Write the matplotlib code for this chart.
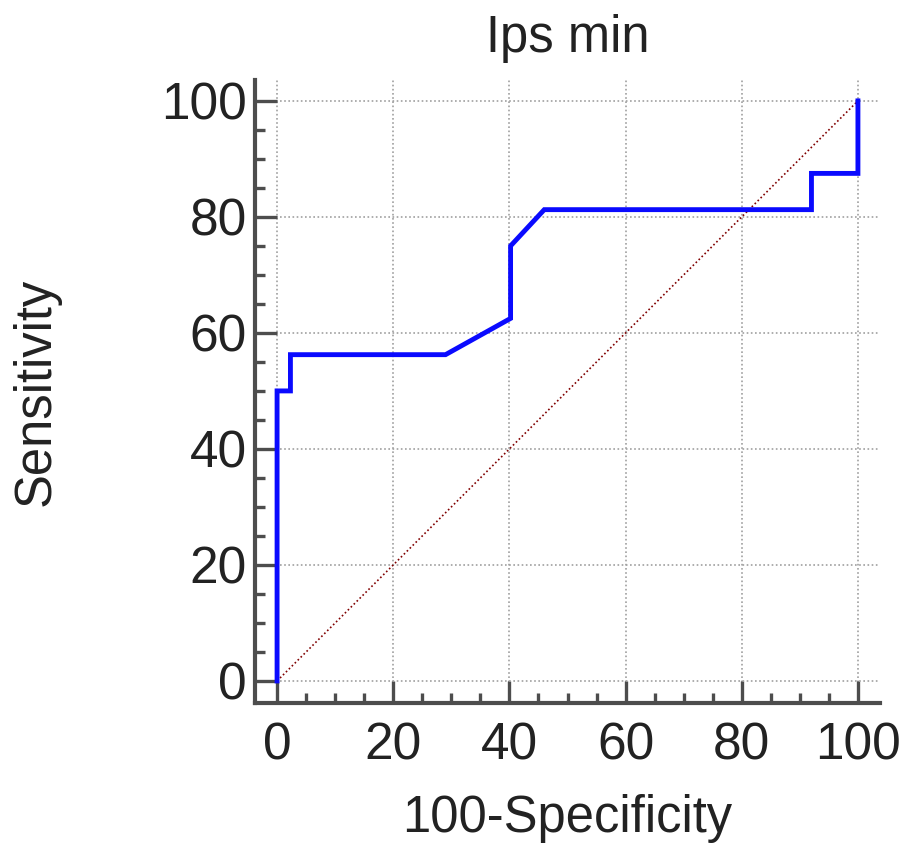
import matplotlib
matplotlib.use("Agg")
import matplotlib.pyplot as plt
from matplotlib.ticker import MultipleLocator

plt.rcParams['font.family'] = ['Liberation Sans', 'DejaVu Sans']

fpr = [0, 0, 2.3, 2.3, 29, 40.2, 40.2, 46, 92, 92, 100, 100]
tpr = [0, 50, 50, 56.25, 56.25, 62.5, 75, 81.25, 81.25, 87.5, 87.5, 100]
diag = [0, 100]
title = "Ips min"
xlabel = "100-Specificity"
ylabel = "Sensitivity"

fig = plt.figure(figsize=(9.02, 8.43), dpi=100)
ax = fig.add_axes([255/902, 140/843, 625/902, 623/843])

ax.plot(diag, diag, color='#800000', lw=1.2, ls=(0, (1, 1.5)), zorder=2)
ax.plot(fpr, tpr, color='#0a0aff', lw=3.5, solid_joinstyle='miter', zorder=3)

ax.set_xlim(-3.8, 103.8)
ax.set_ylim(-3.8, 103.6)
ax.xaxis.set_major_locator(MultipleLocator(20))
ax.yaxis.set_major_locator(MultipleLocator(20))
ax.xaxis.set_minor_locator(MultipleLocator(5))
ax.yaxis.set_minor_locator(MultipleLocator(5))

ax.grid(True, which='major', color='#a0a0a0', ls=(0, (1, 1.5)), lw=1.2, zorder=1)
ax.set_axisbelow(True)

for s in ['top', 'right']:
    ax.spines[s].set_visible(False)
for s in ['left', 'bottom']:
    ax.spines[s].set_color('#4d4d4d')
    ax.spines[s].set_linewidth(3)

ax.tick_params(which='major', direction='in', length=16, width=2.4, color='#4d4d4d',
               labelsize=37, labelcolor='#222222')
ax.tick_params(which='minor', direction='in', length=7.5, width=2.4, color='#4d4d4d')
ax.tick_params(axis='y', which='major', pad=6)
ax.tick_params(axis='x', which='major', pad=13)

ax.set_title(title, fontsize=36.5, color='#222222', pad=20)
ax.set_xlabel(xlabel, fontsize=36.5, color='#222222', labelpad=17)
ax.set_ylabel(ylabel, fontsize=36.5, color='#222222', labelpad=72)

fig.savefig("out.png", dpi=100)
